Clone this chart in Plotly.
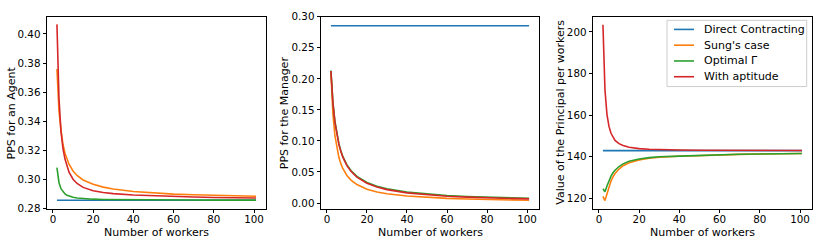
import plotly.graph_objects as go
from plotly.subplots import make_subplots

# Number of workers
workers = [2, 3, 4, 5, 6, 7, 8, 10, 12, 15, 20, 25, 30, 40, 50, 60, 70, 80, 90, 101]

series_names = ["Direct Contracting", "Sung's case", "Optimal Γ", "With aptitude"]
colors = ["#1f77b4", "#ff7f0e", "#2ca02c", "#d62728"]

# Panel 1: PPS for an Agent
agent_direct = [0.2857] * 20
agent_sung = [0.3759, 0.3470, 0.3340, 0.3240, 0.3180, 0.3137, 0.3104, 0.3058, 0.3027, 0.2996,
              0.2966, 0.2947, 0.2934, 0.2917, 0.2906, 0.2899, 0.2894, 0.2890, 0.2887, 0.2884]
agent_optimal = [0.3081, 0.2979, 0.2936, 0.2914, 0.2900, 0.2891, 0.2885, 0.2877, 0.2872, 0.2868,
                 0.2864, 0.2862, 0.2861, 0.28595, 0.28588, 0.2858, 0.28578, 0.28576, 0.28575, 0.28574]
agent_aptitude = [0.4066, 0.3560, 0.3330, 0.3212, 0.3140, 0.3088, 0.3050, 0.3001, 0.2972, 0.2945,
                  0.2922, 0.2910, 0.2902, 0.2893, 0.2887, 0.2882, 0.2879, 0.2876, 0.2874, 0.2872]

# Panel 2: PPS for the Manager
mgr_direct = [0.2857] * 20
mgr_sung = [0.2105, 0.1434, 0.1087, 0.0875, 0.0733, 0.0630, 0.0553, 0.0444, 0.0370, 0.0297,
            0.0223, 0.0179, 0.0149, 0.0112, 0.0090, 0.0075, 0.0064, 0.0056, 0.0050, 0.0044]
mgr_optimal = [0.2136, 0.1628, 0.1316, 0.1104, 0.0952, 0.0837, 0.0747, 0.0615, 0.0524, 0.0429,
               0.0330, 0.0270, 0.0228, 0.0176, 0.0144, 0.0122, 0.0106, 0.0094, 0.0085, 0.0077]
mgr_aptitude = [0.2126, 0.1616, 0.1304, 0.1092, 0.0940, 0.0825, 0.0735, 0.0603, 0.0512, 0.0417,
                0.0318, 0.0258, 0.0216, 0.0164, 0.0132, 0.0110, 0.0095, 0.0083, 0.0074, 0.0066]

# Panel 3: Value of the Principal per workers
val_direct = [142.86] * 20
val_sung = [120.8, 118.8, 122.0, 125.5, 128.2, 130.2, 131.8, 134.0, 135.6, 137.0,
            138.4, 139.2, 139.7, 140.15, 140.55, 140.85, 141.05, 141.2, 141.35, 141.45]
val_optimal = [124.5, 123.1, 125.8, 128.5, 130.6, 132.2, 133.4, 135.2, 136.5, 137.7,
               138.8, 139.5, 139.9, 140.2, 140.6, 140.9, 141.1, 141.25, 141.4, 141.5]
val_aptitude = [203.4, 172.0, 160.2, 154.5, 151.2, 149.2, 147.8, 146.2, 145.3, 144.5,
                143.8, 143.5, 143.3, 143.14, 143.04, 142.99, 142.96, 142.94, 142.92, 142.91]

x_ticks = [0, 20, 40, 60, 80, 100]
agent_ticks = [0.28, 0.30, 0.32, 0.34, 0.36, 0.38, 0.40]
mgr_ticks = [0.00, 0.05, 0.10, 0.15, 0.20, 0.25, 0.30]
val_ticks = [120, 140, 160, 180, 200]

W, H = 822, 249
fig = make_subplots(rows=1, cols=3)

panels = [
    [agent_direct, agent_sung, agent_optimal, agent_aptitude],
    [mgr_direct, mgr_sung, mgr_optimal, mgr_aptitude],
    [val_direct, val_sung, val_optimal, val_aptitude],
]
for p, data in enumerate(panels):
    for i, ys in enumerate(data):
        fig.add_trace(go.Scatter(x=workers, y=ys, mode="lines", name=series_names[i],
                                 line=dict(color=colors[i], width=1.6),
                                 showlegend=False), row=1, col=p + 1)

font = "DejaVu Sans, Liberation Sans, sans-serif"
xdoms = [(47 / W, 266 / W), (321 / W, 539 / W), (593 / W, 812 / W)]
ydom = (1 - 212.3 / H, 1 - 11 / H)
yranges = [(0.2797, 0.412), (-0.0095, 0.3005), (114.8, 207.4)]
ytickss = [agent_ticks, mgr_ticks, val_ticks]
yfmt = [".2f", ".2f", "d"]

axis_common = dict(showline=True, linecolor="black", linewidth=0.9, mirror=True,
                   ticks="outside", ticklen=3.5, tickwidth=0.9, tickcolor="black",
                   showgrid=False, zeroline=False,
                   tickfont=dict(family=font, size=10.3, color="black"))
for p in range(3):
    fig.update_xaxes(row=1, col=p + 1, domain=list(xdoms[p]), range=[-2.95, 105.95],
                     tickvals=x_ticks, ticklabelstandoff=-3, **axis_common)
    fig.update_yaxes(row=1, col=p + 1, domain=list(ydom), range=list(yranges[p]),
                     tickvals=ytickss[p], tickformat=yfmt[p], **axis_common)

ytitles = ["PPS for an Agent", "PPS for the Manager", "Value of the Principal per workers"]
ytitle_x = [11.7, 284.5, 561]
annots = []
for p in range(3):
    annots.append(dict(text="Number of workers", xref="paper", yref="paper",
                       x=(xdoms[p][0] + xdoms[p][1]) / 2, y=1 - 237 / H,
                       xanchor="center", yanchor="middle", showarrow=False,
                       font=dict(family=font, size=11, color="black")))
    annots.append(dict(text=ytitles[p], xref="paper", yref="paper",
                       x=ytitle_x[p] / W, y=(ydom[0] + ydom[1]) / 2, textangle=-90,
                       xanchor="center", yanchor="middle", showarrow=False,
                       font=dict(family=font, size=11, color="black")))

# Hand-drawn legend in the third panel (matplotlib-style spacing)
shapes = [dict(type="rect", xref="paper", yref="paper",
               x0=667 / W, x1=806.7 / W, y0=1 - 84.3 / H, y1=1 - 15 / H,
               fillcolor="rgba(255,255,255,0.8)", line=dict(color="#cccccc", width=1),
               layer="above")]
legend_rows = [24.5, 41.0, 57.5, 74.0]
for i, name in enumerate(series_names):
    yy = 1 - legend_rows[i] / H
    shapes.append(dict(type="line", xref="paper", yref="paper",
                       x0=674 / W, x1=694 / W, y0=yy, y1=yy,
                       line=dict(color=colors[i], width=1.6), layer="above"))
    annots.append(dict(text=name, xref="paper", yref="paper", x=702 / W, y=yy,
                       xanchor="left", yanchor="middle", showarrow=False,
                       font=dict(family=font, size=11, color="black")))

fig.update_layout(
    width=W, height=H, margin=dict(l=0, r=0, t=0, b=0),
    paper_bgcolor="white", plot_bgcolor="white",
    annotations=annots, shapes=shapes, showlegend=False,
)

fig.write_html("out.html", config={"displayModeBar": False},
               post_script="document.body.style.margin='0';document.body.style.padding='0';")
